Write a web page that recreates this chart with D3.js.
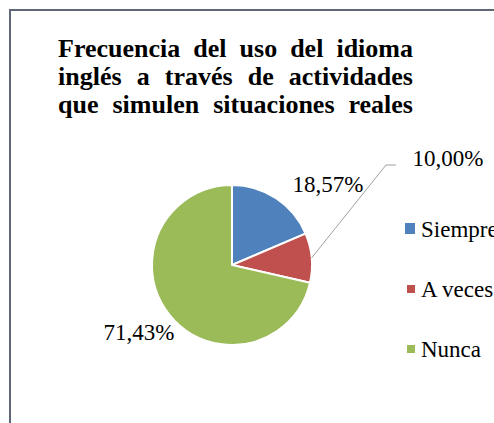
<!DOCTYPE html>
<html>
<head>
<meta charset="utf-8">
<script src="https://cdn.jsdelivr.net/npm/d3@7"></script>
<style>
  body { margin: 0; background: #fff; }
  svg { display: block; }
  svg text { font-family: "Liberation Serif"; }
</style>
</head>
<body>
<div id="chart"></div>
<script>
// data
const categories = ["Siempre", "A veces", "Nunca"];
const values = [18.57, 10.00, 71.43];
const valueLabels = ["18,57%", "10,00%", "71,43%"];
const colors = ["#4F81BD", "#C0504D", "#9BBB59"];
const titleLines = [
    "Frecuencia del uso del idioma",
    "inglés a través de actividades",
    "que simulen situaciones reales"
];

const width = 494, height = 423;
const cx = 232, cy = 265, radius = 80;
const serif = "Liberation Serif";

let svg = d3.select("#chart").append("svg")
    .attr("width", width)
    .attr("height", height);

// chart frame (runs off the right and bottom of the picture)
svg.append("rect")
    .attr("x", 10).attr("y", 10)
    .attr("width", width + 20).attr("height", height + 20)
    .attr("fill", "#fff")
    .attr("stroke", "#5f6675")
    .attr("stroke-width", 2);

// title, justified lines
let titleLeft = 58, titleRight = 413;
let title = svg.append("g").attr("class", "title");
titleLines.forEach((line, li) => {
    let words = line.split(" ");
    let y = 57 + li * 28;
    let ws = words.map(w => title.append("text")
        .attr("y", y)
        .style("font-family", serif)
        .style("font-weight", "bold")
        .style("font-size", "26px")
        .attr("fill", "#000")
        .text(w));
    let lens = ws.map(t => t.node().getComputedTextLength());
    let gap = (titleRight - titleLeft - d3.sum(lens)) / (words.length - 1);
    let x = titleLeft;
    ws.forEach((t, i) => { t.attr("x", x); x += lens[i] + gap; });
});

// pie
let pie = d3.pie().sort(null).value(d => d);
let arcs = pie(values);
let arc = d3.arc().innerRadius(0).outerRadius(radius);

let g = svg.append("g").attr("transform", "translate(" + cx + "," + cy + ")");
g.selectAll("path.slice")
    .data(arcs)
    .enter().append("path")
    .attr("class", "slice")
    .attr("d", arc)
    .attr("fill", (d, i) => colors[i])
    .attr("stroke", "#fff")
    .attr("stroke-width", 2);

// data labels
let labelPos = [
    { x: 328, y: 192 },
    { x: 448, y: 166 },
    { x: 139, y: 340 }
];
svg.selectAll("text.lbl")
    .data(valueLabels)
    .enter().append("text")
    .attr("class", "lbl")
    .attr("x", (d, i) => labelPos[i].x)
    .attr("y", (d, i) => labelPos[i].y)
    .attr("text-anchor", "middle")
    .style("font-family", serif)
    .style("font-size", "23px")
    .attr("fill", "#000")
    .text(d => d);

// leader line for the small slice
let edge = d3.arc().innerRadius(radius).outerRadius(radius).centroid(arcs[1]);
svg.append("path")
    .attr("d", d3.line()([
        [cx + edge[0], cy + edge[1]],
        [386, 165],
        [396, 165]
    ]))
    .attr("fill", "none")
    .attr("stroke", "#a0a0a0")
    .attr("stroke-width", 1);

// legend
let legend = svg.append("g").attr("transform", "translate(405,0)");
let ly = d3.scalePoint().domain(categories).range([229, 349]);
legend.selectAll("rect")
    .data(categories)
    .enter().append("rect")
    .attr("x", (d, i) => i == 0 ? 0 : 2)
    .attr("y", (d, i) => ly(d) - (i == 0 ? 6 : 4))
    .attr("width", (d, i) => i == 0 ? 10 : 8)
    .attr("height", (d, i) => i == 0 ? 11 : 8)
    .attr("fill", (d, i) => colors[i]);
legend.selectAll("text")
    .data(categories)
    .enter().append("text")
    .attr("x", 16)
    .attr("y", d => ly(d) + 8)
    .style("font-family", serif)
    .style("font-size", "23px")
    .attr("fill", "#000")
    .text(d => d);
</script>
</body>
</html>
